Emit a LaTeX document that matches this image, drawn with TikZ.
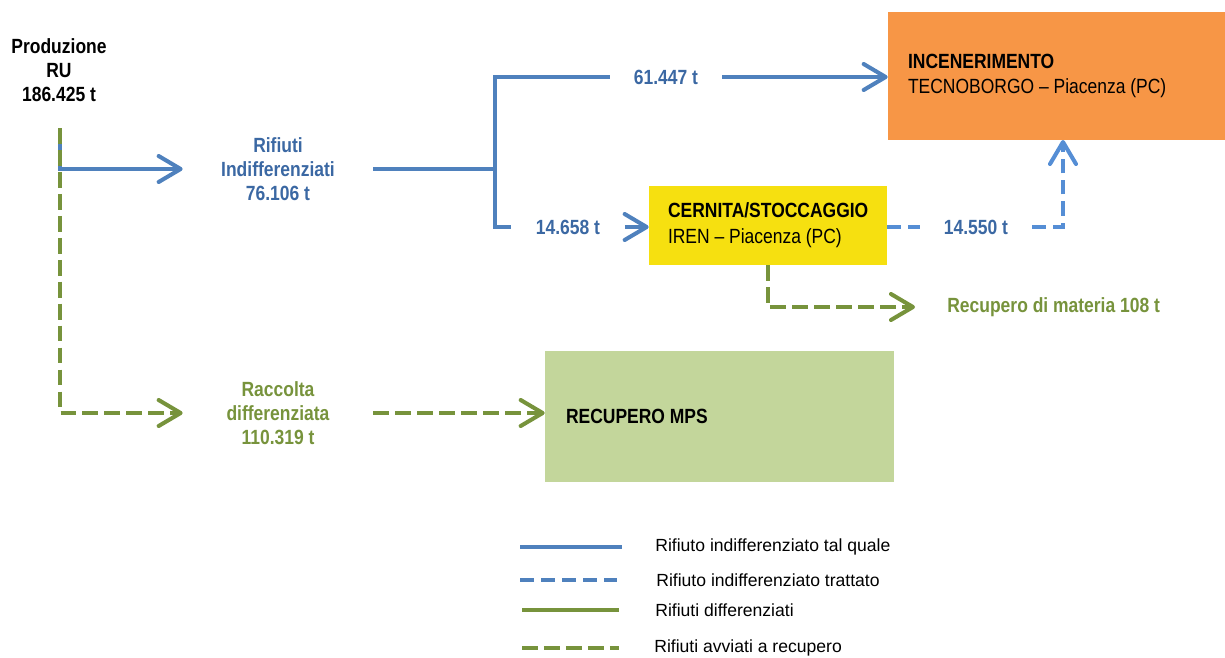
\documentclass[tikz,border=0pt]{standalone}
\usepackage{fontspec}
\setmainfont{Liberation Sans}
\newfontfamily\narrowsans[FakeStretch=0.85,Ligatures=TeX]{Liberation Sans}
\usetikzlibrary{arrows.meta,positioning}
\definecolor{lineblue}{HTML}{4F81BD}
\definecolor{dashblue}{HTML}{558ED5}
\definecolor{textblue}{HTML}{3B68A3}
\definecolor{linegreen}{HTML}{77933C}
\definecolor{boxorange}{HTML}{F79646}
\definecolor{boxyellow}{HTML}{F6E010}
\definecolor{boxgreen}{HTML}{C3D69B}

\begin{document}
\begin{tikzpicture}[x=0.02cm, y=-0.02cm,
    flow/.style={line width=2.3pt},
    tip/.style={-{Straight Barb[length=4.4mm,width=5.2mm,round]}},
    blueflow/.style={flow, lineblue},
    bluedash/.style={flow, dashblue, dash pattern=on 8pt off 4pt},
    greenflow/.style={flow, linegreen},
    greendash/.style={flow, linegreen, dash pattern=on 9pt off 3.5pt},
    lab/.style={font=\narrowsans\bfseries\fontsize{11.7}{13.8}\selectfont, align=center, inner sep=0pt},
    box/.style={inner sep=0pt},
    boxtxt/.style={font=\narrowsans\fontsize{11.7}{14.7}\selectfont, align=left, inner sep=0pt},
    legtxt/.style={font=\fontsize{10}{12}\selectfont, anchor=west, inner sep=0pt}]
    \useasboundingbox (0,0) rectangle (1225,657);

    % Boxes
    \node[box, fill=boxorange, minimum width=6.74cm, minimum height=2.56cm] (inc) at (1056.5,76) {};
    \node[boxtxt, right=0.4cm of inc.west] (inctxt) {\textbf{INCENERIMENTO}\\TECNOBORGO – Piacenza (PC)};
    \node[box, fill=boxyellow, minimum width=4.76cm, minimum height=1.58cm] (cern) at (768,225.5) {};
    \node[boxtxt, right=0.38cm of cern.west] (cerntxt) {\textbf{CERNITA/STOCCAGGIO}\\IREN – Piacenza (PC)};
    \node[box, fill=boxgreen, minimum width=6.98cm, minimum height=2.62cm] (mps) at (719.5,416.5) {};
    \node[boxtxt, right=0.42cm of mps.west] (mpstxt) {\textbf{RECUPERO MPS}};

    % Labels
    \node[lab] (prod) at (59,70) {Produzione\\RU\\186.425 t};
    \coordinate (top) at (60,128);
    \node[lab, textblue, minimum width=3.8cm] (indiff) at (278,169) {Rifiuti\\Indifferenziati\\76.106 t};
    \node[lab, linegreen, minimum width=3.8cm] (racc) at (278,413) {Raccolta\\differenziata\\110.319 t};
    \coordinate (split) at (495,169);
    \node[lab, textblue, minimum width=2.24cm] (t61) at (666,77) {61.447 t};
    \node[lab, textblue, minimum width=2.26cm] (t146) at (568,227) {14.658 t};
    \node[lab, textblue, minimum width=2.24cm] (t145) at (976,227) {14.550 t};
    \coordinate (incin) at (1063,140);
    \node[lab, linegreen, anchor=west, inner xsep=0.64cm] (rm) at (915,307) {Recupero di materia 108 t};

    % Flows
    \draw[blueflow, tip] (top) |- (indiff.west);
    \draw[greendash, tip] (top) |- (racc.west);
    \draw[blueflow] (indiff.east) -- (split);
    \draw[blueflow] (t61.west) -| (split) |- (t146.west);
    \draw[blueflow, tip] (t61.east) -- (t61.east -| inc.west);
    \draw[blueflow, tip] (t146.east) -- (t146.east -| cern.west);
    \draw[bluedash] (cern.east |- t145.west) -- (t145.west);
    \draw[bluedash, tip] (t145.east) -| (incin);
    \draw[greendash, tip] (cern.south) |- (rm.west);
    \draw[greendash, tip] (racc.east) -- (racc.east -| mps.west);

    % Legend
    \node[legtxt] (leg1) at (655,547) {Rifiuto indifferenziato tal quale};
    \node[legtxt] (leg2) at (656,580) {Rifiuto indifferenziato trattato};
    \node[legtxt] (leg3) at (655,610) {Rifiuti differenziati};
    \node[legtxt] (leg4) at (654,648) {Rifiuti avviati a recupero};
    \draw[blueflow] ([xshift=-2.7cm]leg1.west) -- ([xshift=-0.66cm]leg1.west);
    \draw[blueflow, dash pattern=on 8pt off 4pt] ([xshift=-2.72cm]leg2.west) -- ([xshift=-0.78cm]leg2.west);
    \draw[greenflow] ([xshift=-2.66cm]leg3.west) -- ([xshift=-0.72cm]leg3.west);
    \draw[greendash] ([xshift=-2.64cm]leg4.west) -- ([xshift=-0.7cm]leg4.west);
\end{tikzpicture}
\end{document}
